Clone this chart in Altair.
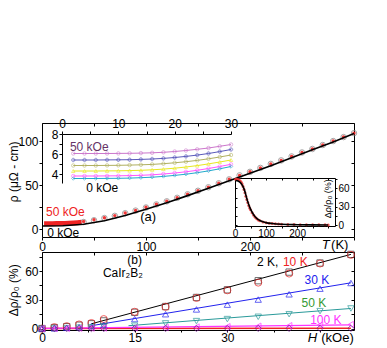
import altair as alt
import pandas as pd

FONT = "Liberation Sans"
W, H = 371, 340
M = 8

# ---------------- data ----------------
# panel (a): rho(T)
T_fit = [0, 20, 40, 60, 80, 100, 120, 140, 160, 180, 200, 220, 240, 260, 280, 300]
rho_fit = [3.5, 3.7, 5.5, 9.5, 15.5, 22.5, 30.0, 38.0, 46.5, 55.0, 63.5, 72.0, 81.0, 90.0, 99.0, 108.5]
T_pts = [40, 50, 60, 70, 80, 90, 100, 110, 120, 130, 140, 150, 160, 170, 180, 190,
         200, 210, 220, 230, 240, 250, 260, 270, 280, 290, 300]
rho_0k = [8.0, 10.0, 12.5, 15.0, 18.0, 21.0, 24.5, 28.0, 31.5, 35.5, 39.5, 43.5, 47.5, 52.0,
          56.5, 61.0, 65.0, 69.5, 74.0, 78.0, 82.5, 87.0, 91.0, 95.5, 100.0, 104.5, 109.0]
rho_50k = [8.6, 10.5, 12.9, 15.3, 18.3, 21.2, 24.7, 28.2, 31.6, 35.6, 39.6, 43.6, 47.6, 52.1,
           56.6, 61.0, 65.0, 69.5, 74.0, 78.0, 82.5, 87.0, 91.0, 95.5, 100.0, 104.5, 109.0]
T_low = [2, 6, 10, 14, 18, 22, 26, 30, 34, 38]
rho_low50 = [6.1, 6.1, 6.1, 6.2, 6.3, 6.4, 6.6, 6.9, 7.3, 7.8]

# inset 1: low-T rho for several fields
T_in = [2, 4, 6, 8, 10, 12, 14, 16, 18, 20, 22, 24, 26, 28, 30]
field_names = ["50 kOe", "40 kOe", "30 kOe", "20 kOe", "10 kOe", "0 kOe"]
field_colors = ["#cc77cc", "#5a5abb", "#b0b060", "#e8e820", "#ff55ff", "#22aacc"]
field_shapes = ["circle", "cross", "circle", "triangle-up", "circle", "diamond"]
rho_in = [
    [6.05, 6.05, 6.05, 6.05, 6.06, 6.07, 6.09, 6.12, 6.17, 6.25, 6.35, 6.47, 6.60, 6.77, 6.95],
    [5.40, 5.40, 5.40, 5.41, 5.42, 5.43, 5.46, 5.50, 5.56, 5.65, 5.76, 5.89, 6.05, 6.24, 6.45],
    [4.85, 4.85, 4.85, 4.86, 4.87, 4.89, 4.92, 4.96, 5.03, 5.12, 5.23, 5.36, 5.52, 5.70, 5.90],
    [4.30, 4.30, 4.30, 4.31, 4.32, 4.34, 4.37, 4.42, 4.49, 4.58, 4.70, 4.84, 5.01, 5.20, 5.40],
    [3.80, 3.80, 3.80, 3.81, 3.82, 3.84, 3.87, 3.92, 4.00, 4.10, 4.22, 4.37, 4.55, 4.75, 4.97],
    [3.55, 3.55, 3.55, 3.56, 3.57, 3.59, 3.63, 3.68, 3.76, 3.86, 3.98, 4.13, 4.31, 4.52, 4.75],
]

# inset 2: MR(T) at 50 kOe
T_mr = [2, 5, 8, 11, 14, 17, 20, 23, 26, 29, 32, 35, 38, 41, 44, 47, 50, 55, 60, 65, 70, 75,
        80, 90, 100, 110, 120, 130, 140, 150, 170, 190, 210, 230, 250, 270, 290, 300]
mr_pts = [75, 75, 74.5, 74, 73, 72, 70, 67, 63, 58, 53, 47, 42, 37, 32, 28, 25, 20, 16, 13,
          10.5, 8.5, 7, 5, 3.8, 3, 2.4, 2, 1.7, 1.4, 1.1, 0.9, 0.7, 0.6, 0.5, 0.4, 0.4, 0.3]
T_mrfit = [2, 10, 20, 30, 40, 50, 60, 70, 80, 100, 120, 150, 200, 250, 300]
mr_fit = [73, 72, 68, 58, 40, 26, 17, 11, 7.5, 4, 2.5, 1.3, 0.6, 0.3, 0.2]

# panel (b): MR(H)
H_kOe = [0, 2, 4, 6, 8, 10, 15, 20, 25, 30, 35, 40, 45, 50]
mr_2K = [0, 1.0, 2.0, 3.5, 5.0, 8.0, 17.0, 23.0, 32.5, 40.5, 50.0, 59.0, 68.5, 77.5]
mr_10K = [0, 1.5, 2.5, 4.3, 5.8, 9.9, 17.5, 22.7, 32.0, 40.0, 48.0, 57.5, 68.0, 77.0]
mr_30K = [0, 0.3, 0.8, 1.6, 2.6, 3.8, 9.9, 15.0, 20.0, 25.0, 30.3, 35.8, 41.7, 47.6]
mr_50K = [0, 0.2, 0.5, 0.9, 1.4, 2.0, 3.0, 5.4, 7.8, 9.9, 12.3, 15.0, 18.2, 21.0]
mr_100K = [0, 0.1, 0.2, 0.3, 0.4, 0.5, 0.8, 1.2, 1.6, 2.0, 2.5, 3.0, 3.6, 4.3]
mr_200K = [0, 0, 0, 0, 0, 0, 0.1, 0.1, 0.1, 0.1, 0.2, 0.2, 0.2, 0.2]
fit_H_2K = [8, 50]; fit_2K = [5.0, 77.5]
fit_H_30K = [8, 50]; fit_30K = [3.0, 47.8]
fit_H_50K = [14, 50]; fit_50K = [3.0, 21.0]
fit_H_100K = [0, 50]; fit_100K = [0.3, 3.8]
fit_H_200K = [0, 50]; fit_200K = [0.0, 0.3]

# ---------------- scales (domain, page pixel start, page pixel end) ----------------
AX = ([0, 300], 42, 354)
AY = ([-9, 120.5], 237, 123)
I1X = ([0, 30], 62, 231)
I1Y = ([3.1, 8], 183, 134)
I2X = ([0, 322], 235, 335)
I2Y = ([-1.5, 77], 226, 178)
BX = ([0, 50.5], 42, 354)
BY = ([-1.5, 80], 330, 252)
BT = ([0, 300], 42, 354)


def S(spec):
    d, p0, p1 = spec
    return alt.Scale(domain=d, range=[p0 - M, p1 - M], nice=False, zero=False)


def axis(orient, pos, values, shown=None, labels=True, tick_size=3, fs=12, pad=1):
    # pos: page pixel position of the axis line
    if orient == "bottom":
        off = (pos - M) - H
    elif orient == "top":
        off = -(pos - M)
    elif orient == "left":
        off = -(pos - M)
    else:
        off = (pos - M) - W
    kw = dict(orient=orient, offset=off, values=values, title=None, grid=False,
              domainColor="black", domainWidth=1, tickColor="black", tickWidth=1,
              tickSize=tick_size, labels=labels, labelFont=FONT, format="d",
              labelFontSize=fs, labelColor="black", labelPadding=pad, labelFlush=False)
    if labels and shown is not None:
        cond = " || ".join(f"datum.value == {v}" for v in shown)
        kw["labelExpr"] = f"({cond}) ? datum.label : ''"
    return alt.Axis(**kw)


def layer(df, mark, xs, ys, xaxis=None, yaxis=None, **enc):
    return getattr(alt.Chart(df), mark[0])(**mark[1]).encode(
        x=alt.X("x:Q", scale=S(xs), axis=xaxis),
        y=alt.Y("y:Q", scale=S(ys), axis=yaxis),
        **enc)


def text_layer(items, xs, ys, color="black", size=12, align="left", angle=0, style="normal"):
    df = pd.DataFrame(items, columns=["x", "y", "t"])
    return alt.Chart(df).mark_text(align=align, baseline="middle", font=FONT, fontSize=size,
                                   color=color, angle=angle, fontStyle=style).encode(
        x=alt.X("x:Q", scale=S(xs), axis=None),
        y=alt.Y("y:Q", scale=S(ys), axis=None),
        text="t:N")


layers = []
T_ticks = [0, 50, 100, 150, 200, 250, 300]

# ---- panel (a) ----
df_fit = pd.DataFrame({"x": T_fit, "y": rho_fit})
df_0k = pd.DataFrame({"x": T_pts, "y": rho_0k})
df_50k = pd.DataFrame({"x": T_pts, "y": rho_50k})
df_low = pd.DataFrame({"x": T_low, "y": rho_low50})

layers.append(layer(df_0k, ("mark_point", dict(shape="circle", filled=False, color="#808080", size=30, strokeWidth=1)),
                    AX, AY,
                    xaxis=axis("bottom", 237, T_ticks, shown=[0, 100, 200]),
                    yaxis=axis("left", 42, [0, 25, 50, 75, 100], shown=[0, 50, 100])))
layers.append(layer(df_50k, ("mark_point", dict(shape="circle", filled=True, color="#ee2222", size=12, opacity=0.9)),
                    AX, AY,
                    xaxis=axis("bottom", 123, T_ticks, labels=False),
                    yaxis=axis("left", 354, [0, 25, 50, 75, 100], labels=False)))
layers.append(layer(df_low, ("mark_line", dict(color="#ee2222", strokeWidth=5)), AX, AY))
layers.append(layer(df_fit, ("mark_line", dict(color="black", strokeWidth=1.6)), AX, AY))

layers.append(text_layer([[3.8, 19.3, "50 kOe"]], AX, AY, color="#ee2222"))
layers.append(text_layer([[5, -4.5, "0 kOe"]], AX, AY))
layers.append(text_layer([[102, 13.6, "(a)"]], AX, AY, align="center", size=13))
layers.append(text_layer([[-27, 65, "ρ (μΩ - cm)"]], AX, AY, align="center", angle=270))
layers.append(text_layer([[269, -18, "T"]], AX, AY, style="italic", size=13))
layers.append(text_layer([[278, -18, "(K)"]], AX, AY, size=13))

# ---- inset 1 ----
rows = []
for name, vals in zip(field_names, rho_in):
    for t, v in zip(T_in, vals):
        rows.append({"x": t, "y": v, "f": name})
df_in = pd.DataFrame(rows)
cscale = alt.Scale(domain=field_names, range=field_colors)
sscale = alt.Scale(domain=field_names, range=field_shapes)
layers.append(layer(df_in, ("mark_line", dict(strokeWidth=1)), I1X, I1Y,
                    xaxis=axis("top", 134, [0, 5, 10, 15, 20, 25, 30], shown=[0, 10, 20, 30]),
                    yaxis=axis("left", 62, [4, 5, 6, 7, 8], shown=[4, 6, 8]),
                    color=alt.Color("f:N", scale=cscale, legend=None), detail="f:N"))
layers.append(layer(df_in, ("mark_point", dict(size=12, strokeWidth=0.8, filled=False)), I1X, I1Y,
                    color=alt.Color("f:N", scale=cscale, legend=None),
                    shape=alt.Shape("f:N", scale=sscale, legend=None)))
layers.append(text_layer([[1.4, 6.7, "50 kOe"]], I1X, I1Y, color="#663366"))
layers.append(text_layer([[4.3, 2.6, "0 kOe"]], I1X, I1Y))

# ---- inset 2 ----
df_mr = pd.DataFrame({"x": T_mr, "y": mr_pts})
df_mrfit = pd.DataFrame({"x": T_mrfit, "y": mr_fit})
layers.append(layer(df_mr, ("mark_point", dict(shape="circle", filled=True, color="#ee3333", size=9, opacity=0.8)),
                    I2X, I2Y,
                    xaxis=axis("bottom", 226, T_ticks, shown=[0, 100, 200], fs=10, tick_size=2, pad=0),
                    yaxis=axis("right", 335, [0, 15, 30, 45, 60, 75], shown=[0, 30, 60], fs=10, tick_size=2)))
layers.append(layer(df_mrfit, ("mark_line", dict(color="black", strokeWidth=1.6, interpolate="monotone")),
                    I2X, I2Y,
                    xaxis=axis("bottom", 178, T_ticks, labels=False, tick_size=2),
                    yaxis=axis("right", 235, [0, 15, 30, 45, 60, 75], labels=False, tick_size=2)))
layers.append(text_layer([[299, 43, "Δρ/ρ₀ (%)"]], I2X, I2Y, align="center", angle=270, size=9))

# ---- panel (b) ----
def series(hs, vs):
    return pd.DataFrame({"x": hs, "y": vs})

layers.append(layer(series(fit_H_2K, fit_2K), ("mark_line", dict(color="black", strokeWidth=1)), BX, BY,
                    xaxis=axis("bottom", 330, [0, 7.5, 15, 22.5, 30, 37.5, 45], shown=[0, 15, 30], tick_size=2, pad=0),
                    yaxis=axis("left", 42, [0, 15, 30, 45, 60, 75], shown=[0, 30, 60])))
layers.append(layer(series(fit_H_30K, fit_30K), ("mark_line", dict(color="#2222ee", strokeWidth=1)), BX, BY,
                    yaxis=axis("left", 354, [0, 15, 30, 45, 60, 75], labels=False)))
layers.append(layer(series(fit_H_50K, fit_50K), ("mark_line", dict(color="#2a9a9a", strokeWidth=1)), BX, BY))
layers.append(layer(series(fit_H_200K, fit_200K), ("mark_line", dict(color="#ee2222", strokeWidth=1.5)), BX, BY))
layers.append(layer(series(fit_H_100K, fit_100K), ("mark_line", dict(color="#ff33ff", strokeWidth=1.2)), BX, BY))

layers.append(layer(series(H_kOe, mr_2K), ("mark_point", dict(shape="square", filled=False, color="#333333", size=40, strokeWidth=1)), BX, BY))
layers.append(layer(series(H_kOe, mr_10K), ("mark_point", dict(shape="circle", filled=False, color="#ee2222", size=50, strokeWidth=1)), BX, BY))
layers.append(layer(series(H_kOe, mr_30K), ("mark_point", dict(shape="triangle-up", filled=False, color="#2222ee", size=40, strokeWidth=1)), BX, BY))
layers.append(layer(series(H_kOe, mr_50K), ("mark_point", dict(shape="triangle-down", filled=False, color="#2a9a9a", size=40, strokeWidth=1)), BX, BY))
layers.append(layer(series(H_kOe, mr_100K), ("mark_point", dict(shape="triangle-left", filled=False, color="#ff33ff", size=40, strokeWidth=1)), BX, BY))
layers.append(layer(series(H_kOe, mr_200K), ("mark_point", dict(shape="diamond", filled=False, color="#7a1a9a", size=40, strokeWidth=1)), BX, BY))

# top T frame of panel (b) (labels shared with panel (a) axis row)
df_T = pd.DataFrame({"x": [0, 300], "y": [0, 0]})
layers.append(alt.Chart(df_T).mark_point(opacity=0).encode(
    x=alt.X("x:Q", scale=S(BT), axis=axis("bottom", 252, T_ticks, labels=False)),
    y=alt.Y("y:Q", scale=S(BY), axis=None)))

layers.append(text_layer([[34.8, 70, "2 K,"]], BX, BY))
layers.append(text_layer([[39.0, 70, "10 K"]], BX, BY, color="#ee2222"))
layers.append(text_layer([[42.5, 51, "30 K"]], BX, BY, color="#2222ee"))
layers.append(text_layer([[42.0, 26.8, "50 K"]], BX, BY, color="#339933"))
layers.append(text_layer([[43.4, 8.8, "100 K"]], BX, BY, color="#ff33ff"))
layers.append(text_layer([[15, 72, "(b)"]], BX, BY, align="center", size=12))
layers.append(text_layer([[13.1, 57.6, "CaIr₂B₂"]], BX, BY, align="center", size=12))
layers.append(text_layer([[-4.5, 40, "Δρ/ρ₀ (%)"]], BX, BY, align="center", angle=270, size=12))
layers.append(text_layer([[43, -9.5, "H"]], BX, BY, style="italic", size=13))
layers.append(text_layer([[45.2, -9.5, "(kOe)"]], BX, BY, size=13))

chart = alt.layer(*layers).resolve_scale(
    x="independent", y="independent", color="independent", shape="independent"
).resolve_axis(x="independent", y="independent").properties(
    width=W, height=H, padding=0, autosize="none"
).configure_view(strokeWidth=0)

chart.save("out.html", embed_options={"renderer": "svg", "actions": False})
